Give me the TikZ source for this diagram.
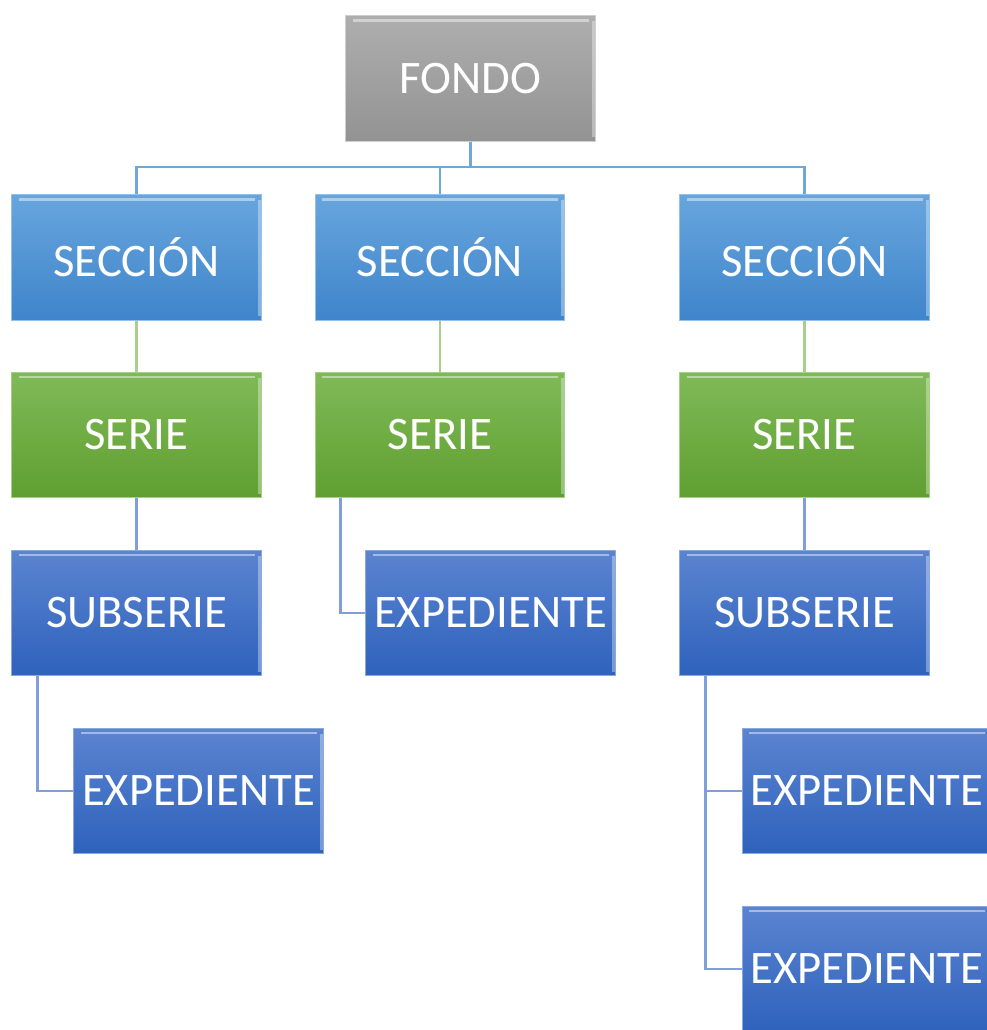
\documentclass[tikz,border=0pt]{standalone}
\usepackage{fontspec}
\setmainfont{Carlito}
\definecolor{grayT}{HTML}{AEAEAE}
\definecolor{grayB}{HTML}{939393}
\definecolor{secT}{HTML}{67A5DD}
\definecolor{secB}{HTML}{3F85CB}
\definecolor{serT}{HTML}{80BA58}
\definecolor{serB}{HTML}{5F9F30}
\definecolor{dkT}{HTML}{5B84D0}
\definecolor{dkB}{HTML}{2E62BC}
\definecolor{lnSec}{HTML}{6FA6DC}
\definecolor{lnSer}{HTML}{A8D08D}
\definecolor{lnDk}{HTML}{7F9EDC}
\begin{document}
\begin{tikzpicture}[x=0.75pt,y=-0.75pt,
  box/.style={rectangle, minimum width=187pt, minimum height=94pt, inner sep=0pt,
    text=white, font=\fontsize{35}{40}\selectfont, line width=0.8pt,
    path picture={
      \draw[white,opacity=0.45,line width=2.2pt]
        ([xshift=5pt,yshift=-3.5pt]path picture bounding box.north west) --
        ([xshift=-5pt,yshift=-3.5pt]path picture bounding box.north east);
      \draw[white,opacity=0.35,line width=2pt]
        ([xshift=-1.5pt,yshift=-4pt]path picture bounding box.north east) --
        ([xshift=-1.5pt,yshift=3pt]path picture bounding box.south east);
    }},
  fondo/.style={box, top color=grayT, bottom color=grayB, draw=grayT!60!white},
  sec/.style={box, top color=secT, bottom color=secB, draw=secT!70!white},
  ser/.style={box, top color=serT, bottom color=serB, draw=serT!70!white},
  dk/.style={box, top color=dkT, bottom color=dkB, draw=dkT!70!white},
  lsec/.style={draw=lnSec, line width=2.1pt},
  lser/.style={draw=lnSer, line width=2.1pt},
  ldk/.style={draw=lnDk, line width=2.1pt}
]
\useasboundingbox (0,0) rectangle (987,1030);
\clip (0,0) rectangle (987,1030);
\fill[white] (0,0) rectangle (987,1030);

\coordinate (bus) at (0,167);

% nodes
\node[fondo] (f) at (470.5,78.5) {FONDO};
\node[sec] (s1) at (136.5,257.5) {SECCIÓN};
\node[sec] (s2) at (440,257.5) {SECCIÓN};
\node[sec] (s3) at (804.5,257.5) {SECCIÓN};
\node[ser] (r1) at (136.5,435) {SERIE};
\node[ser] (r2) at (440,435) {SERIE};
\node[ser] (r3) at (804.5,435) {SERIE};
\node[dk] (u1) at (136.5,613) {SUBSERIE};
\node[dk] (e2) at (490.5,613) {EXPEDIENTE};
\node[dk] (u3) at (804.5,613) {SUBSERIE};
\node[dk] (e1) at (198.5,791) {EXPEDIENTE};
\node[dk] (e3a) at (867,791) {EXPEDIENTE};
\node[dk] (e3b) at (867,969) {EXPEDIENTE};

% connectors
\draw[lsec] (f.south) -- (f.south |- bus);
\draw[lsec] (s1.north) -- (s1.north |- bus) -- (s3.north |- bus) -- (s3.north);
\draw[lsec] (s2.north) -- (s2.north |- bus);
\draw[lser] (s1.south) -- (r1.north);
\draw[lser] (s2.south) -- (r2.north);
\draw[lser] (s3.south) -- (r3.north);
\draw[ldk] (r1.south) -- (u1.north);
\draw[ldk] (r3.south) -- (u3.north);
\coordinate (r2b) at ([xshift=19.5pt]r2.south west);
\coordinate (u1b) at ([xshift=19.5pt]u1.south west);
\coordinate (u3b) at ([xshift=19.5pt]u3.south west);
\draw[ldk] (r2b) |- (e2.west);
\draw[ldk] (u1b) |- (e1.west);
\draw[ldk] (u3b) |- (e3a.west);
\draw[ldk] (u3b) |- (e3b.west);
\end{tikzpicture}
\end{document}
